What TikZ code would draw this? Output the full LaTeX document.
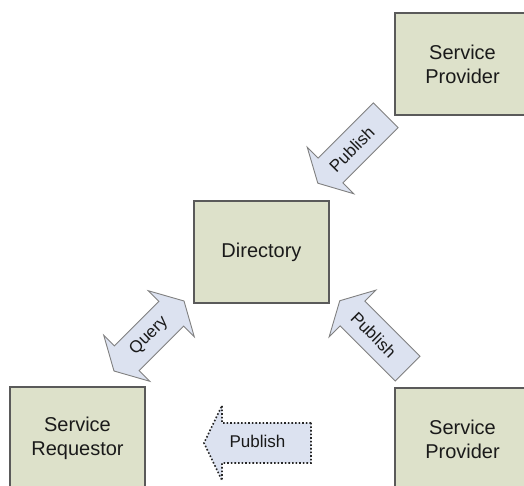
\documentclass[tikz,border=0pt]{standalone}
\usepackage{fontspec}
\setmainfont{Liberation Sans}
\definecolor{boxfill}{RGB}{221,225,202}
\definecolor{boxline}{RGB}{90,90,90}
\definecolor{arrowfill}{RGB}{220,226,240}
\definecolor{arrowline}{RGB}{128,128,128}
\definecolor{inktext}{RGB}{26,26,26}
\tikzset{
  entity/.style={draw=boxline, fill=boxfill, line width=1.3pt,
    minimum width=135pt, minimum height=102pt, align=center,
    text=inktext, font=\fontsize{20}{24}\selectfont},
  blockarrow/.style={draw=arrowline, fill=arrowfill, line width=0.9pt, line join=miter},
  dottedarrow/.style={draw=black!85, fill=arrowfill, line width=1.6pt, dotted},
  arrowtext/.style={text=inktext, font=\fontsize{17}{18}\selectfont, inner sep=0pt},
  % one-headed block arrow along +x: length, body half-width, head half-width, head length
  pics/onehead/.style n args={4}{code={
    \path[pic actions] (-#1/2,-#2) -- (#1/2-#4,-#2) -- (#1/2-#4,-#3) -- (#1/2,0)
      -- (#1/2-#4,#3) -- (#1/2-#4,#2) -- (-#1/2,#2) -- cycle;
  }},
  % two-headed block arrow along +x
  pics/twohead/.style n args={4}{code={
    \path[pic actions] (-#1/2,0) -- (-#1/2+#4,#3) -- (-#1/2+#4,#2) -- (#1/2-#4,#2)
      -- (#1/2-#4,#3) -- (#1/2,0) -- (#1/2-#4,-#3) -- (#1/2-#4,-#2)
      -- (-#1/2+#4,-#2) -- (-#1/2+#4,-#3) -- cycle;
  }},
}
\begin{document}
\begin{tikzpicture}[x=1pt, y=1pt]
  \clip (0,0) rectangle (524,486);
  \fill[white] (0,0) rectangle (524,486);

  % entities
  \node[entity] (provtop) at (462.5,422) {Service\\Provider};
  \node[entity] (dir)     at (261.5,234) {Directory};
  \node[entity] (req)     at (77.5,48)   {Service\\Requestor};
  \node[entity] (provbot) at (462.5,47)  {Service\\Provider};

  % publish from the upper provider
  \pic[blockarrow, rotate=225] (pubtop) at (351.75,336.75) {onehead={96}{17.5}{33}{18}};
  \node[arrowtext, rotate=45] (pubtoplbl) at (351.75,336.75) {Publish};

  % query between requestor and directory
  \pic[blockarrow, rotate=45] (query) at (149,150) {twohead={99}{17.5}{32.5}{18}};
  \node[arrowtext, rotate=45] (querylbl) at (149,150) {Query};

  % publish from the lower provider
  \pic[blockarrow, rotate=135] (pubbot) at (373.7,151.3) {onehead={96}{17.5}{33}{18}};
  \node[arrowtext, rotate=-45] (pubbotlbl) at (373.7,151.3) {Publish};

  % dotted publish towards the requestor
  \pic[dottedarrow, rotate=180] (pubreq) at (257.5,43) {onehead={107}{20}{37.5}{18}};
  \node[arrowtext] (pubreqlbl) at (257.5,45) {Publish};
\end{tikzpicture}
\end{document}
